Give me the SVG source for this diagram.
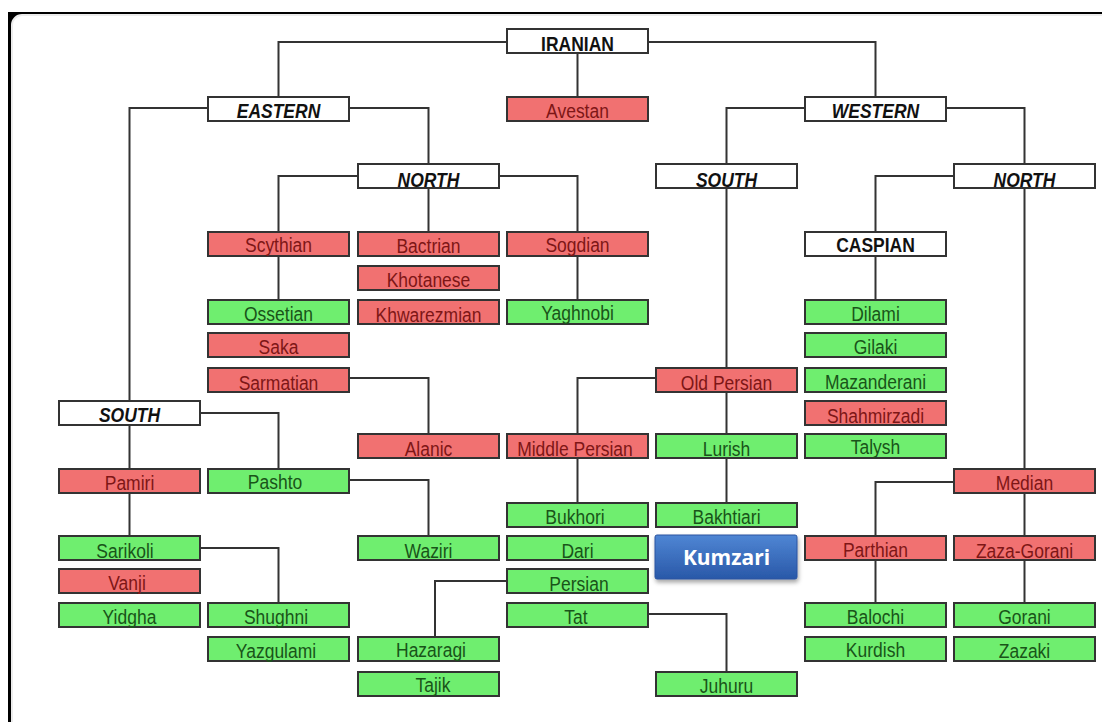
<svg xmlns="http://www.w3.org/2000/svg" width="1102" height="722" viewBox="0 0 1102 722">
<style>
.box rect{stroke:#333;stroke-width:2}
.r rect{fill:#F17171}
.g rect{fill:#6FEE6F}
.w rect{fill:#ffffff}
text{font-family:"Liberation Sans",Arial,sans-serif;font-size:17.5px;text-anchor:middle}
.r text{fill:#7E1616}
.g text{fill:#195419}
.w text{fill:#111;font-weight:bold;font-size:17.5px}
.it text{font-style:italic}
#connectors path{fill:none;stroke:#333;stroke-width:2}
</style>
<defs>
<linearGradient id="blue" x1="0" y1="0" x2="0" y2="1">
<stop offset="0" stop-color="#4F86D4"/>
<stop offset="1" stop-color="#2958A8"/>
</linearGradient>
<filter id="sh" x="-10%" y="-20%" width="125%" height="150%">
<feDropShadow dx="1" dy="3" stdDeviation="2" flood-color="#000" flood-opacity="0.35"/>
</filter>
</defs>
<rect x="0" y="0" width="1102" height="722" fill="#ffffff"/>
<rect x="8" y="12" width="1094" height="710" fill="#000"/>
<rect x="12" y="15" width="1100" height="720" rx="10" fill="#ffffff" stroke="#ececec" stroke-width="2"/>

<g id="connectors">
<path d="M507,42H278.5V97"/>
<path d="M648,42H875.5V97"/>
<path d="M577.5,53V97"/>
<path d="M208,108H129.5V401"/>
<path d="M349,108H428.5V164"/>
<path d="M358,176H278.5V232"/>
<path d="M428.5,188V232"/>
<path d="M499,176H577.5V232"/>
<path d="M278.5,256V300"/>
<path d="M577.5,256V300"/>
<path d="M349,378H428.5V434"/>
<path d="M200,413H278.5V469"/>
<path d="M129.5,425V469"/>
<path d="M129.5,493V536"/>
<path d="M200,548H278.5V603"/>
<path d="M349,480H428.5V536"/>
<path d="M805,108H726.5V164"/>
<path d="M946,108H1024.5V164"/>
<path d="M726.5,188V368"/>
<path d="M656,378H577.5V434"/>
<path d="M726.5,392V434"/>
<path d="M577.5,458V503"/>
<path d="M726.5,458V503"/>
<path d="M507,581H435V637"/>
<path d="M648,614H726.5V672"/>
<path d="M954,176H875.5V232"/>
<path d="M1024.5,188V469"/>
<path d="M875.5,256V300"/>
<path d="M954,482H875.5V536"/>
<path d="M1024.5,493V536"/>
<path d="M875.5,560V603"/>
<path d="M1024.5,560V603"/>
</g>

<g id="iranian" class="box w"><rect x="507" y="29" width="141" height="24"/><text transform="translate(577.5,51) scale(1,1.15)">IRANIAN</text></g>
<g id="eastern" class="box w it"><rect x="208" y="97" width="141" height="24"/><text transform="translate(278.5,118) scale(1,1.15)">EASTERN</text></g>
<g id="avestan" class="box r"><rect x="507" y="97" width="141" height="24"/><text transform="translate(577.5,118) scale(1,1.2)">Avestan</text></g>
<g id="western" class="box w it"><rect x="805" y="97" width="141" height="24"/><text transform="translate(875.5,118) scale(1,1.15)">WESTERN</text></g>
<g id="east-north" class="box w it"><rect x="358" y="164" width="141" height="24"/><text transform="translate(428.5,187) scale(1,1.15)">NORTH</text></g>
<g id="west-south" class="box w it"><rect x="656" y="164" width="141" height="24"/><text transform="translate(726.5,187) scale(1,1.15)">SOUTH</text></g>
<g id="west-north" class="box w it"><rect x="954" y="164" width="141" height="24"/><text transform="translate(1024.5,187) scale(1,1.15)">NORTH</text></g>

<g id="scythian" class="box r"><rect x="208" y="232" width="141" height="24"/><text transform="translate(278.5,252) scale(1,1.2)">Scythian</text></g>
<g id="bactrian" class="box r"><rect x="358" y="232" width="141" height="24"/><text transform="translate(428.5,253) scale(1,1.2)">Bactrian</text></g>
<g id="sogdian" class="box r"><rect x="507" y="232" width="141" height="24"/><text transform="translate(577.5,252) scale(1,1.2)">Sogdian</text></g>
<g id="caspian" class="box w"><rect x="805" y="232" width="141" height="24"/><text transform="translate(875.5,252) scale(1,1.15)">CASPIAN</text></g>
<g id="khotanese" class="box r"><rect x="358" y="266" width="141" height="24"/><text transform="translate(428.5,287) scale(1,1.2)">Khotanese</text></g>
<g id="ossetian" class="box g"><rect x="208" y="300" width="141" height="24"/><text transform="translate(278.5,321) scale(1,1.2)">Ossetian</text></g>
<g id="khwarezmian" class="box r"><rect x="358" y="300" width="141" height="24"/><text transform="translate(428.5,322) scale(1,1.2)">Khwarezmian</text></g>
<g id="yaghnobi" class="box g"><rect x="507" y="300" width="141" height="24"/><text transform="translate(577.5,320) scale(1,1.2)">Yaghnobi</text></g>
<g id="dilami" class="box g"><rect x="805" y="300" width="141" height="24"/><text transform="translate(875.5,321) scale(1,1.2)">Dilami</text></g>
<g id="saka" class="box r"><rect x="208" y="333" width="141" height="24"/><text transform="translate(278.5,354) scale(1,1.2)">Saka</text></g>
<g id="gilaki" class="box g"><rect x="805" y="333" width="141" height="24"/><text transform="translate(875.5,354) scale(1,1.2)">Gilaki</text></g>
<g id="sarmatian" class="box r"><rect x="208" y="368" width="141" height="24"/><text transform="translate(278.5,390) scale(1,1.2)">Sarmatian</text></g>
<g id="old-persian" class="box r"><rect x="656" y="368" width="141" height="24"/><text transform="translate(726.5,390) scale(1,1.2)">Old Persian</text></g>
<g id="mazanderani" class="box g"><rect x="805" y="368" width="141" height="24"/><text transform="translate(875.5,389) scale(1,1.2)">Mazanderani</text></g>
<g id="east-south" class="box w it"><rect x="59" y="401" width="141" height="24"/><text transform="translate(129.5,422) scale(1,1.15)">SOUTH</text></g>
<g id="shahmirzadi" class="box r"><rect x="805" y="401" width="141" height="24"/><text transform="translate(875.5,423) scale(1,1.2)">Shahmirzadi</text></g>
<g id="alanic" class="box r"><rect x="358" y="434" width="141" height="24"/><text transform="translate(428.5,456) scale(1,1.2)">Alanic</text></g>
<g id="middle-persian" class="box r"><rect x="507" y="434" width="141" height="24"/><text transform="translate(575,456) scale(1,1.2)">Middle Persian</text></g>
<g id="lurish" class="box g"><rect x="656" y="434" width="141" height="24"/><text transform="translate(726.5,456) scale(1,1.2)">Lurish</text></g>
<g id="talysh" class="box g"><rect x="805" y="434" width="141" height="24"/><text transform="translate(875.5,454) scale(1,1.2)">Talysh</text></g>
<g id="pamiri" class="box r"><rect x="59" y="469" width="141" height="24"/><text transform="translate(129.5,490) scale(1,1.2)">Pamiri</text></g>
<g id="pashto" class="box g"><rect x="208" y="469" width="141" height="24"/><text transform="translate(275,489) scale(1,1.2)">Pashto</text></g>
<g id="median" class="box r"><rect x="954" y="469" width="141" height="24"/><text transform="translate(1024.5,490) scale(1,1.2)">Median</text></g>
<g id="bukhori" class="box g"><rect x="507" y="503" width="141" height="24"/><text transform="translate(575,524) scale(1,1.2)">Bukhori</text></g>
<g id="bakhtiari" class="box g"><rect x="656" y="503" width="141" height="24"/><text transform="translate(726.5,524) scale(1,1.2)">Bakhtiari</text></g>
<g id="sarikoli" class="box g"><rect x="59" y="536" width="141" height="24"/><text transform="translate(125,558) scale(1,1.2)">Sarikoli</text></g>
<g id="waziri" class="box g"><rect x="358" y="536" width="141" height="24"/><text transform="translate(428.5,558) scale(1,1.2)">Waziri</text></g>
<g id="dari" class="box g"><rect x="507" y="536" width="141" height="24"/><text transform="translate(577.5,558) scale(1,1.2)">Dari</text></g>
<g id="kumzari"><rect x="655" y="535" width="142" height="44" rx="2" fill="url(#blue)" stroke="#2A55A0" stroke-width="1" filter="url(#sh)"/><text x="726.5" y="565" style="fill:#fff;font-family:'Open Sans','Liberation Sans',sans-serif;font-weight:bold;font-size:21px">Kumzari</text></g>
<g id="parthian" class="box r"><rect x="805" y="536" width="141" height="24"/><text transform="translate(875.5,557) scale(1,1.2)">Parthian</text></g>
<g id="zaza-gorani" class="box r"><rect x="954" y="536" width="141" height="24"/><text transform="translate(1024.5,558) scale(1,1.2)">Zaza-Gorani</text></g>
<g id="vanji" class="box r"><rect x="59" y="569" width="141" height="24"/><text transform="translate(127,590) scale(1,1.2)">Vanji</text></g>
<g id="persian" class="box g"><rect x="507" y="569" width="141" height="24"/><text transform="translate(579,591) scale(1,1.2)">Persian</text></g>
<g id="yidgha" class="box g"><rect x="59" y="603" width="141" height="24"/><text transform="translate(129.5,624) scale(1,1.2)">Yidgha</text></g>
<g id="shughni" class="box g"><rect x="208" y="603" width="141" height="24"/><text transform="translate(276,624) scale(1,1.2)">Shughni</text></g>
<g id="tat" class="box g"><rect x="507" y="603" width="141" height="24"/><text transform="translate(576,624) scale(1,1.2)">Tat</text></g>
<g id="balochi" class="box g"><rect x="805" y="603" width="141" height="24"/><text transform="translate(875.5,624) scale(1,1.2)">Balochi</text></g>
<g id="gorani" class="box g"><rect x="954" y="603" width="141" height="24"/><text transform="translate(1024.5,624) scale(1,1.2)">Gorani</text></g>
<g id="yazgulami" class="box g"><rect x="208" y="637" width="141" height="24"/><text transform="translate(276,658) scale(1,1.2)">Yazgulami</text></g>
<g id="hazaragi" class="box g"><rect x="358" y="637" width="141" height="24"/><text transform="translate(431,657) scale(1,1.2)">Hazaragi</text></g>
<g id="kurdish" class="box g"><rect x="805" y="637" width="141" height="24"/><text transform="translate(875.5,657) scale(1,1.2)">Kurdish</text></g>
<g id="zazaki" class="box g"><rect x="954" y="637" width="141" height="24"/><text transform="translate(1024.5,658) scale(1,1.2)">Zazaki</text></g>
<g id="tajik" class="box g"><rect x="358" y="672" width="141" height="24"/><text transform="translate(433,692) scale(1,1.2)">Tajik</text></g>
<g id="juhuru" class="box g"><rect x="656" y="672" width="141" height="24"/><text transform="translate(726.5,693) scale(1,1.2)">Juhuru</text></g>
</svg>
